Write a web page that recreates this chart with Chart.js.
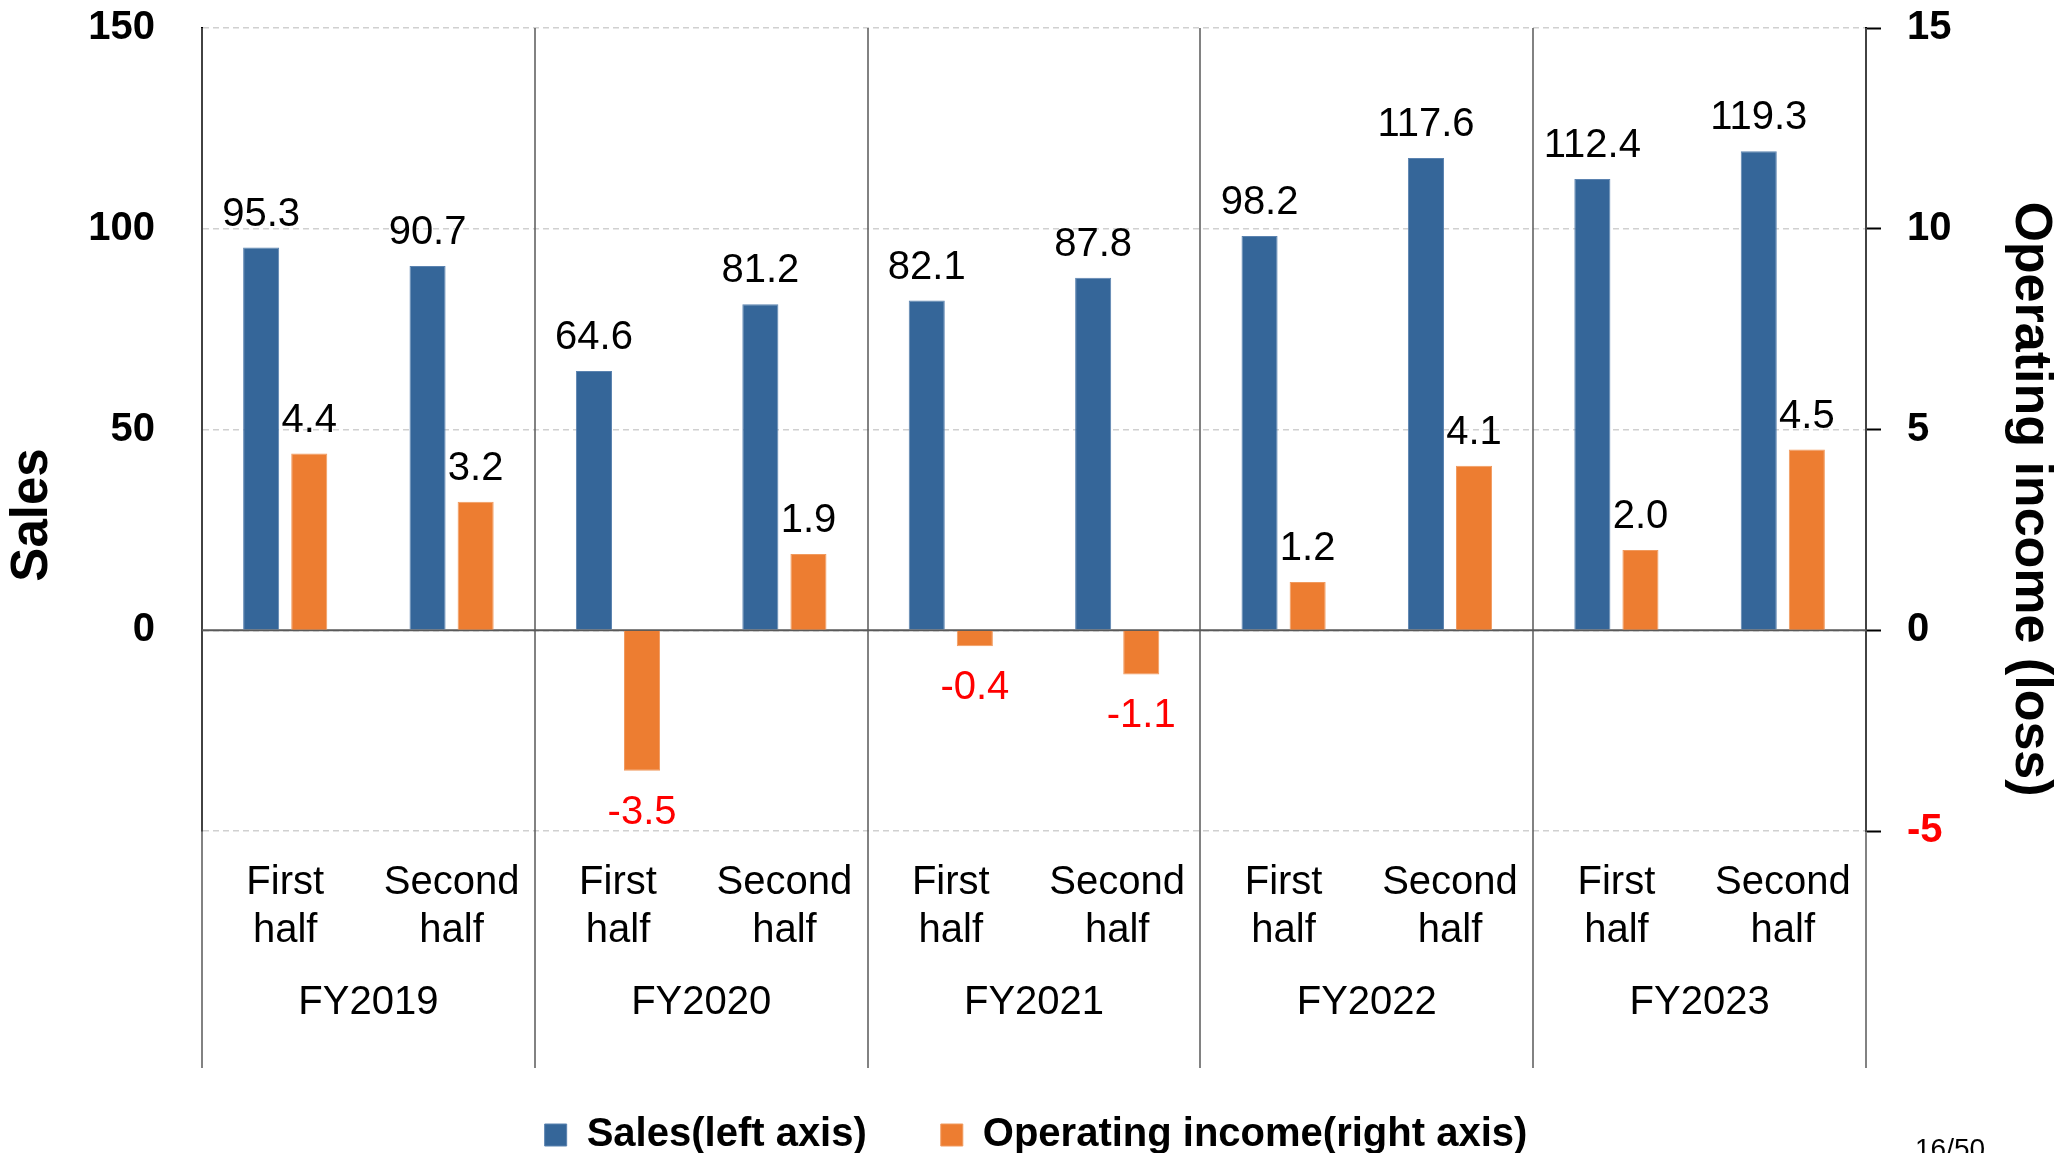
<!DOCTYPE html>
<html>
<head>
<meta charset="utf-8">
<script src="https://cdn.jsdelivr.net/npm/chart.js@4.4.0/dist/chart.umd.min.js"></script>
<style>
  body { margin: 0; background: #fff; overflow: hidden; }
  #wrap { width: 2072px; height: 1165px; position: relative; }
</style>
</head>
<body>
<div id="wrap"><canvas id="myChart"></canvas></div>
<script>
var halfLabels = [["First","half"],["Second","half"],["First","half"],["Second","half"],["First","half"],
                  ["Second","half"],["First","half"],["Second","half"],["First","half"],["Second","half"]];
var fyLabels = ["FY2019","FY2020","FY2021","FY2022","FY2023"];
var salesValues = [95.3, 90.7, 64.6, 81.2, 82.1, 87.8, 98.2, 117.6, 112.4, 119.3];
var incomeValues = [4.4, 3.2, -3.5, 1.9, -0.4, -1.1, 1.2, 4.1, 2.0, 4.5];
var leftTicks = [150, 100, 50, 0, -50];
var rightTicks = [15, 10, 5, 0, -5];

var FONT = "'Liberation Sans', Arial, sans-serif";
Chart.defaults.font.family = FONT;
Chart.defaults.color = "#000";

// lignes verticales entre les exercices + ligne du zero
var separators = {
    id: "separators",
    beforeDatasetsDraw: function(chart) {
        var ctx = chart.ctx, fy = chart.scales.fy, y = chart.scales.y;
        var top = chart.chartArea.top;
        var bottom = fy.top + 117;
        ctx.save();
        ctx.strokeStyle = "#595959";
        ctx.lineWidth = 1.5;
        for (var i = 0; i <= fyLabels.length; i++) {
            var x = Math.round(fy.getPixelForValue(i - 0.5));
            ctx.beginPath();
            ctx.moveTo(x, top);
            ctx.lineTo(x, bottom);
            ctx.stroke();
        }
        var y0 = y.getPixelForValue(0);
        ctx.lineWidth = 2;
        ctx.beginPath();
        ctx.moveTo(chart.chartArea.left, y0);
        ctx.lineTo(chart.chartArea.right, y0);
        ctx.stroke();
        ctx.restore();
    }
};

// valeurs au-dessus / au-dessous des barres
var valueLabels = {
    id: "valueLabels",
    afterDatasetsDraw: function(chart) {
        var ctx = chart.ctx;
        ctx.save();
        ctx.font = "40px " + FONT;
        ctx.textAlign = "center";
        chart.data.datasets.forEach(function(ds, di) {
            var meta = chart.getDatasetMeta(di);
            meta.data.forEach(function(bar, i) {
                var v = ds.data[i];
                var txt = v.toFixed(1);
                if (v < 0) {
                    ctx.fillStyle = "#FF0000";
                    ctx.textBaseline = "top";
                    ctx.fillText(txt, bar.x, bar.y + 22);
                } else {
                    ctx.fillStyle = "#000";
                    ctx.textBaseline = "alphabetic";
                    ctx.fillText(txt, bar.x, bar.y - 22);
                }
            });
        });
        ctx.restore();
    }
};

// titres des axes et numero de page
var axisTitles = {
    id: "axisTitles",
    afterDraw: function(chart) {
        var ctx = chart.ctx;
        ctx.save();
        ctx.fillStyle = "#000";
        ctx.font = "bold 51px " + FONT;
        ctx.textAlign = "center";
        ctx.textBaseline = "middle";
        ctx.translate(33, 515);
        ctx.rotate(-Math.PI / 2);
        ctx.fillText("Sales", 0, 0);
        ctx.restore();

        ctx.save();
        ctx.fillStyle = "#000";
        ctx.font = "bold 52px " + FONT;
        ctx.textAlign = "center";
        ctx.textBaseline = "middle";
        ctx.translate(2030, 499);
        ctx.rotate(Math.PI / 2);
        ctx.fillText("Operating income (loss)", 0, 0);
        ctx.restore();

        ctx.save();
        ctx.fillStyle = "#000";
        ctx.font = "28px " + FONT;
        ctx.textAlign = "left";
        ctx.textBaseline = "top";
        ctx.fillText("16/50", 1915, 1136);
        ctx.restore();
    }
};

new Chart(document.getElementById("myChart"), {
    type: "bar",
    data: {
        labels: halfLabels,
        datasets: [
            {
                label: "Sales(left axis)",
                data: salesValues,
                yAxisID: "y",
                backgroundColor: "#356699",
                borderColor: "#5b83b0",
                borderWidth: 1,
                categoryPercentage: 0.578,
                barPercentage: 0.75
            },
            {
                label: "Operating income(right axis)",
                data: incomeValues,
                yAxisID: "y1",
                backgroundColor: "#ED7D31",
                borderColor: "#f19a5e",
                borderWidth: 1,
                categoryPercentage: 0.578,
                barPercentage: 0.75
            }
        ]
    },
    options: {
        responsive: true,
        maintainAspectRatio: false,
        animation: false,
        layout: { padding: { top: 28, left: 0, right: 0, bottom: 0 } },
        plugins: {
            tooltip: { enabled: false },
            legend: {
                display: true,
                position: "bottom",
                labels: {
                    boxWidth: 22,
                    boxHeight: 22,
                    padding: 74,
                    color: "#000",
                    font: { size: 40, weight: "bold" }
                }
            }
        },
        scales: {
            x: {
                position: "bottom",
                grid: { display: false },
                border: { display: false },
                ticks: { font: { size: 40 }, padding: 20, maxRotation: 0, autoSkip: false },
                afterFit: function(s) { s.height = 120; }
            },
            fy: {
                type: "category",
                position: "bottom",
                labels: fyLabels,
                offset: true,
                grid: { display: false },
                border: { display: false },
                ticks: { font: { size: 40 }, padding: 20, maxRotation: 0 },
                afterFit: function(s) { s.height = 90; }
            },
            y: {
                position: "left",
                min: -50,
                max: 150,
                afterBuildTicks: function(s) { s.ticks = leftTicks.map(function(v) { return { value: v }; }); },
                grid: { color: "#D0D0D0", lineWidth: 1.5, drawTicks: false },
                border: { display: true, color: "#000", width: 2, dash: [6, 4] },
                ticks: {
                    font: { size: 40, weight: "bold" },
                    padding: 47,
                    callback: function(v) { return v < 0 ? "" : v; }
                },
                afterFit: function(s) { s.width = 202; s.paddingTop = 0; s.paddingBottom = 0; }
            },
            y1: {
                position: "right",
                min: -5,
                max: 15,
                afterBuildTicks: function(s) { s.ticks = rightTicks.map(function(v) { return { value: v }; }); },
                grid: { drawOnChartArea: false, drawTicks: true, tickLength: 15, tickColor: "#000", tickWidth: 2 },
                border: { display: true, color: "#000", width: 2 },
                ticks: {
                    font: { size: 40, weight: "bold" },
                    padding: 26,
                    color: function(c) { return c.tick && c.tick.value < 0 ? "#FF0000" : "#000"; }
                },
                afterFit: function(s) { s.width = 206; s.paddingTop = 0; s.paddingBottom = 0; }
            }
        }
    },
    plugins: [separators, valueLabels, axisTitles]
});
</script>
</body>
</html>
